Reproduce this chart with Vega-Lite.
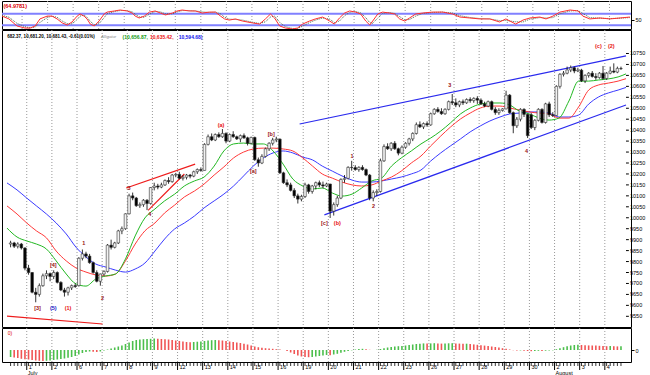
{
"$schema":"https://vega.github.io/schema/vega-lite/v6.json",
"padding":0,
"background":"white",
"spacing":1,
"bounds":"flush",
"config":{"view":{"stroke":"#000","strokeWidth":1},"font":"Liberation Sans","axis":{"labelFont":"Liberation Sans","labelColor":"#000","tickColor":"#000","labelOverlap":false,"labelFontSize":5.5}},
"datasets":{
"days":[{"t":-0.5,"lab":"1"},{"t":6.5,"lab":"2"},{"t":13.5,"lab":"6"},{"t":20.5,"lab":"7"},{"t":27.5,"lab":"8"},{"t":34.5,"lab":"9"},{"t":41.5,"lab":"12"},{"t":48.5,"lab":"13"},{"t":55.5,"lab":"14"},{"t":62.5,"lab":"15"},{"t":69.5,"lab":"16"},{"t":76.5,"lab":"19"},{"t":83.5,"lab":"20"},{"t":90.5,"lab":"21"},{"t":97.5,"lab":"22"},{"t":104.5,"lab":"23"},{"t":111.5,"lab":"26"},{"t":118.5,"lab":"27"},{"t":125.5,"lab":"28"},{"t":132.5,"lab":"29"},{"t":139.5,"lab":"30"},{"t":146.5,"lab":"2"},{"t":153.5,"lab":"3"},{"t":160.5,"lab":"4"}],
"months":[{"t":-0.5,"mon":"July"},{"t":146.5,"mon":"August"}],
"yticks":[{"v":9550},{"v":9600},{"v":9650},{"v":9700},{"v":9750},{"v":9800},{"v":9850},{"v":9900},{"v":9950},{"v":10000},{"v":10050},{"v":10100},{"v":10150},{"v":10200},{"v":10250},{"v":10300},{"v":10350},{"v":10400},{"v":10450},{"v":10500},{"v":10550},{"v":10600},{"v":10650},{"v":10700},{"v":10750}],
"bars":[
{"t":-5,"o":9880,"h":9895,"l":9865,"c":9885,"a":-70,"d":"u"},
{"t":-4,"o":9885,"h":9890,"l":9862,"c":9870,"a":-75,"d":"d"},
{"t":-3,"o":9870,"h":9888,"l":9860,"c":9880,"a":-80,"d":"d"},
{"t":-2,"o":9880,"h":9885,"l":9855,"c":9862,"a":-88,"d":"d"},
{"t":-1,"o":9862,"h":9865,"l":9760,"c":9770,"a":-92,"d":"d"},
{"t":0,"o":9770,"h":9785,"l":9740,"c":9750,"a":-95,"d":"d"},
{"t":1,"o":9750,"h":9752,"l":9655,"c":9660,"a":-100,"d":"d"},
{"t":2,"o":9660,"h":9680,"l":9614,"c":9650,"a":-105,"d":"d"},
{"t":3,"o":9650,"h":9700,"l":9640,"c":9690,"a":-108,"d":"d"},
{"t":4,"o":9690,"h":9745,"l":9685,"c":9735,"a":-110,"d":"d"},
{"t":5,"o":9735,"h":9760,"l":9720,"c":9745,"a":-108,"d":"u"},
{"t":6,"o":9745,"h":9750,"l":9710,"c":9732,"a":-105,"d":"u"},
{"t":7,"o":9732,"h":9760,"l":9720,"c":9750,"a":-100,"d":"u"},
{"t":8,"o":9750,"h":9755,"l":9700,"c":9705,"a":-95,"d":"u"},
{"t":9,"o":9705,"h":9710,"l":9665,"c":9670,"a":-90,"d":"u"},
{"t":10,"o":9670,"h":9680,"l":9640,"c":9660,"a":-85,"d":"u"},
{"t":11,"o":9660,"h":9685,"l":9645,"c":9680,"a":-78,"d":"u"},
{"t":12,"o":9680,"h":9695,"l":9670,"c":9690,"a":-70,"d":"u"},
{"t":13,"o":9690,"h":9700,"l":9680,"c":9686,"a":-60,"d":"u"},
{"t":14,"o":9690,"h":9820,"l":9686,"c":9815,"a":-45,"d":"u"},
{"t":15,"o":9815,"h":9855,"l":9805,"c":9835,"a":-30,"d":"u"},
{"t":16,"o":9835,"h":9845,"l":9815,"c":9825,"a":-20,"d":"u"},
{"t":17,"o":9825,"h":9835,"l":9790,"c":9795,"a":-15,"d":"u"},
{"t":18,"o":9795,"h":9800,"l":9745,"c":9750,"a":-18,"d":"d"},
{"t":19,"o":9750,"h":9760,"l":9705,"c":9710,"a":-20,"d":"d"},
{"t":20,"o":9710,"h":9745,"l":9690,"c":9743,"a":-15,"d":"u"},
{"t":21,"o":9743,"h":9760,"l":9735,"c":9755,"a":-5,"d":"u"},
{"t":22,"o":9755,"h":9880,"l":9750,"c":9875,"a":5,"d":"u"},
{"t":23,"o":9875,"h":9900,"l":9855,"c":9865,"a":15,"d":"u"},
{"t":24,"o":9865,"h":9890,"l":9860,"c":9885,"a":25,"d":"u"},
{"t":25,"o":9885,"h":9945,"l":9880,"c":9940,"a":35,"d":"u"},
{"t":26,"o":9940,"h":9960,"l":9925,"c":9950,"a":45,"d":"u"},
{"t":27,"o":9950,"h":10020,"l":9945,"c":10018,"a":60,"d":"u"},
{"t":28,"o":10018,"h":10110,"l":10015,"c":10100,"a":75,"d":"u"},
{"t":29,"o":10100,"h":10115,"l":10080,"c":10090,"a":90,"d":"u"},
{"t":30,"o":10090,"h":10095,"l":10050,"c":10055,"a":100,"d":"u"},
{"t":31,"o":10055,"h":10070,"l":10045,"c":10060,"a":105,"d":"u"},
{"t":32,"o":10060,"h":10085,"l":10050,"c":10080,"a":108,"d":"u"},
{"t":33,"o":10080,"h":10085,"l":10035,"c":10065,"a":110,"d":"u"},
{"t":34,"o":10065,"h":10140,"l":10060,"c":10138,"a":112,"d":"u"},
{"t":35,"o":10138,"h":10160,"l":10125,"c":10145,"a":115,"d":"u"},
{"t":36,"o":10145,"h":10155,"l":10130,"c":10140,"a":113,"d":"d"},
{"t":37,"o":10140,"h":10160,"l":10135,"c":10150,"a":110,"d":"d"},
{"t":38,"o":10150,"h":10175,"l":10145,"c":10170,"a":108,"d":"d"},
{"t":39,"o":10170,"h":10185,"l":10155,"c":10165,"a":105,"d":"d"},
{"t":40,"o":10165,"h":10200,"l":10160,"c":10195,"a":100,"d":"d"},
{"t":41,"o":10195,"h":10205,"l":10185,"c":10198,"a":95,"d":"d"},
{"t":42,"o":10198,"h":10210,"l":10175,"c":10180,"a":90,"d":"d"},
{"t":43,"o":10180,"h":10195,"l":10170,"c":10185,"a":85,"d":"d"},
{"t":44,"o":10185,"h":10200,"l":10175,"c":10195,"a":80,"d":"d"},
{"t":45,"o":10195,"h":10200,"l":10180,"c":10190,"a":78,"d":"d"},
{"t":46,"o":10190,"h":10215,"l":10185,"c":10210,"a":80,"d":"u"},
{"t":47,"o":10210,"h":10225,"l":10200,"c":10220,"a":83,"d":"u"},
{"t":48,"o":10220,"h":10230,"l":10210,"c":10216,"a":86,"d":"u"},
{"t":49,"o":10216,"h":10340,"l":10216,"c":10335,"a":90,"d":"u"},
{"t":50,"o":10335,"h":10380,"l":10330,"c":10370,"a":95,"d":"u"},
{"t":51,"o":10370,"h":10385,"l":10350,"c":10355,"a":98,"d":"u"},
{"t":52,"o":10355,"h":10385,"l":10350,"c":10380,"a":100,"d":"u"},
{"t":53,"o":10380,"h":10390,"l":10365,"c":10370,"a":98,"d":"d"},
{"t":54,"o":10370,"h":10405,"l":10365,"c":10385,"a":95,"d":"d"},
{"t":55,"o":10385,"h":10390,"l":10340,"c":10350,"a":90,"d":"d"},
{"t":56,"o":10350,"h":10385,"l":10345,"c":10380,"a":85,"d":"d"},
{"t":57,"o":10380,"h":10395,"l":10365,"c":10370,"a":80,"d":"d"},
{"t":58,"o":10370,"h":10375,"l":10355,"c":10360,"a":75,"d":"d"},
{"t":59,"o":10360,"h":10380,"l":10345,"c":10375,"a":70,"d":"d"},
{"t":60,"o":10375,"h":10385,"l":10360,"c":10365,"a":62,"d":"d"},
{"t":61,"o":10365,"h":10370,"l":10330,"c":10340,"a":55,"d":"d"},
{"t":62,"o":10340,"h":10370,"l":10335,"c":10367,"a":45,"d":"d"},
{"t":63,"o":10367,"h":10370,"l":10260,"c":10265,"a":35,"d":"d"},
{"t":64,"o":10265,"h":10275,"l":10233,"c":10250,"a":28,"d":"d"},
{"t":65,"o":10250,"h":10290,"l":10245,"c":10280,"a":22,"d":"d"},
{"t":66,"o":10280,"h":10320,"l":10275,"c":10315,"a":18,"d":"d"},
{"t":67,"o":10315,"h":10345,"l":10305,"c":10340,"a":15,"d":"d"},
{"t":68,"o":10340,"h":10365,"l":10330,"c":10355,"a":12,"d":"d"},
{"t":69,"o":10355,"h":10370,"l":10345,"c":10359,"a":8,"d":"d"},
{"t":70,"o":10359,"h":10362,"l":10200,"c":10205,"a":5,"d":"d"},
{"t":71,"o":10205,"h":10210,"l":10155,"c":10160,"a":0,"d":"d"},
{"t":72,"o":10160,"h":10175,"l":10140,"c":10150,"a":-10,"d":"d"},
{"t":73,"o":10150,"h":10160,"l":10120,"c":10125,"a":-25,"d":"d"},
{"t":74,"o":10125,"h":10135,"l":10090,"c":10100,"a":-40,"d":"d"},
{"t":75,"o":10100,"h":10110,"l":10065,"c":10085,"a":-55,"d":"d"},
{"t":76,"o":10085,"h":10105,"l":10075,"c":10097,"a":-65,"d":"d"},
{"t":77,"o":10097,"h":10160,"l":10090,"c":10150,"a":-70,"d":"d"},
{"t":78,"o":10150,"h":10155,"l":10110,"c":10120,"a":-72,"d":"d"},
{"t":79,"o":10120,"h":10150,"l":10110,"c":10145,"a":-70,"d":"u"},
{"t":80,"o":10145,"h":10165,"l":10130,"c":10160,"a":-65,"d":"u"},
{"t":81,"o":10160,"h":10170,"l":10140,"c":10150,"a":-60,"d":"u"},
{"t":82,"o":10150,"h":10165,"l":10135,"c":10145,"a":-55,"d":"u"},
{"t":83,"o":10145,"h":10160,"l":10140,"c":10154,"a":-50,"d":"u"},
{"t":84,"o":10154,"h":10155,"l":9999,"c":10030,"a":-52,"d":"d"},
{"t":85,"o":10030,"h":10070,"l":10010,"c":10060,"a":-45,"d":"u"},
{"t":86,"o":10060,"h":10100,"l":10050,"c":10090,"a":-38,"d":"u"},
{"t":87,"o":10090,"h":10180,"l":10085,"c":10175,"a":-28,"d":"u"},
{"t":88,"o":10175,"h":10195,"l":10160,"c":10180,"a":-18,"d":"u"},
{"t":89,"o":10180,"h":10235,"l":10175,"c":10230,"a":-10,"d":"u"},
{"t":90,"o":10230,"h":10260,"l":10215,"c":10229,"a":-3,"d":"u"},
{"t":91,"o":10229,"h":10240,"l":10215,"c":10220,"a":5,"d":"u"},
{"t":92,"o":10220,"h":10235,"l":10210,"c":10230,"a":10,"d":"u"},
{"t":93,"o":10230,"h":10240,"l":10215,"c":10220,"a":12,"d":"u"},
{"t":94,"o":10220,"h":10225,"l":10190,"c":10195,"a":8,"d":"d"},
{"t":95,"o":10195,"h":10200,"l":10080,"c":10090,"a":2,"d":"d"},
{"t":96,"o":10090,"h":10125,"l":10075,"c":10115,"a":0,"d":"d"},
{"t":97,"o":10115,"h":10130,"l":10100,"c":10120,"a":3,"d":"u"},
{"t":98,"o":10120,"h":10270,"l":10115,"c":10260,"a":10,"d":"u"},
{"t":99,"o":10260,"h":10335,"l":10255,"c":10325,"a":18,"d":"u"},
{"t":100,"o":10325,"h":10340,"l":10310,"c":10315,"a":25,"d":"u"},
{"t":101,"o":10315,"h":10345,"l":10305,"c":10340,"a":30,"d":"u"},
{"t":102,"o":10340,"h":10350,"l":10310,"c":10315,"a":35,"d":"u"},
{"t":103,"o":10315,"h":10320,"l":10285,"c":10295,"a":38,"d":"u"},
{"t":104,"o":10295,"h":10330,"l":10290,"c":10322,"a":40,"d":"u"},
{"t":105,"o":10322,"h":10345,"l":10315,"c":10340,"a":45,"d":"u"},
{"t":106,"o":10340,"h":10365,"l":10330,"c":10360,"a":50,"d":"u"},
{"t":107,"o":10360,"h":10390,"l":10350,"c":10385,"a":55,"d":"u"},
{"t":108,"o":10385,"h":10435,"l":10380,"c":10425,"a":60,"d":"u"},
{"t":109,"o":10425,"h":10440,"l":10410,"c":10415,"a":63,"d":"u"},
{"t":110,"o":10415,"h":10435,"l":10405,"c":10430,"a":66,"d":"u"},
{"t":111,"o":10430,"h":10440,"l":10415,"c":10424,"a":64,"d":"d"},
{"t":112,"o":10424,"h":10480,"l":10420,"c":10475,"a":66,"d":"u"},
{"t":113,"o":10475,"h":10500,"l":10470,"c":10495,"a":68,"d":"u"},
{"t":114,"o":10495,"h":10505,"l":10480,"c":10485,"a":66,"d":"d"},
{"t":115,"o":10485,"h":10500,"l":10470,"c":10475,"a":64,"d":"d"},
{"t":116,"o":10475,"h":10500,"l":10470,"c":10495,"a":65,"d":"u"},
{"t":117,"o":10495,"h":10535,"l":10490,"c":10530,"a":67,"d":"u"},
{"t":118,"o":10530,"h":10565,"l":10515,"c":10525,"a":68,"d":"u"},
{"t":119,"o":10525,"h":10545,"l":10505,"c":10515,"a":66,"d":"d"},
{"t":120,"o":10515,"h":10535,"l":10505,"c":10530,"a":64,"d":"d"},
{"t":121,"o":10530,"h":10540,"l":10515,"c":10525,"a":62,"d":"d"},
{"t":122,"o":10525,"h":10545,"l":10520,"c":10540,"a":63,"d":"u"},
{"t":123,"o":10540,"h":10550,"l":10525,"c":10535,"a":60,"d":"d"},
{"t":124,"o":10535,"h":10550,"l":10525,"c":10545,"a":56,"d":"d"},
{"t":125,"o":10545,"h":10555,"l":10520,"c":10537,"a":52,"d":"d"},
{"t":126,"o":10537,"h":10545,"l":10515,"c":10520,"a":48,"d":"d"},
{"t":127,"o":10520,"h":10530,"l":10505,"c":10510,"a":44,"d":"d"},
{"t":128,"o":10510,"h":10535,"l":10505,"c":10530,"a":40,"d":"d"},
{"t":129,"o":10530,"h":10535,"l":10490,"c":10495,"a":35,"d":"d"},
{"t":130,"o":10495,"h":10505,"l":10470,"c":10480,"a":30,"d":"d"},
{"t":131,"o":10480,"h":10500,"l":10470,"c":10490,"a":25,"d":"d"},
{"t":132,"o":10490,"h":10500,"l":10485,"c":10497,"a":18,"d":"d"},
{"t":133,"o":10497,"h":10580,"l":10495,"c":10560,"a":12,"d":"d"},
{"t":134,"o":10560,"h":10565,"l":10475,"c":10480,"a":5,"d":"d"},
{"t":135,"o":10480,"h":10485,"l":10386,"c":10420,"a":-2,"d":"d"},
{"t":136,"o":10420,"h":10460,"l":10410,"c":10450,"a":-5,"d":"d"},
{"t":137,"o":10450,"h":10500,"l":10440,"c":10495,"a":-4,"d":"u"},
{"t":138,"o":10495,"h":10500,"l":10460,"c":10472,"a":-8,"d":"d"},
{"t":139,"o":10472,"h":10475,"l":10364,"c":10375,"a":-10,"d":"d"},
{"t":140,"o":10470,"h":10478,"l":10405,"c":10412,"a":-12,"d":"d"},
{"t":141,"o":10412,"h":10450,"l":10400,"c":10445,"a":-10,"d":"u"},
{"t":142,"o":10445,"h":10500,"l":10440,"c":10495,"a":-8,"d":"u"},
{"t":143,"o":10495,"h":10500,"l":10430,"c":10435,"a":-10,"d":"d"},
{"t":144,"o":10435,"h":10525,"l":10430,"c":10520,"a":-7,"d":"u"},
{"t":145,"o":10520,"h":10530,"l":10460,"c":10470,"a":-5,"d":"u"},
{"t":146,"o":10470,"h":10482,"l":10460,"c":10467,"a":-3,"d":"u"},
{"t":147,"o":10467,"h":10605,"l":10465,"c":10600,"a":8,"d":"u"},
{"t":148,"o":10600,"h":10660,"l":10590,"c":10655,"a":18,"d":"u"},
{"t":149,"o":10655,"h":10670,"l":10645,"c":10660,"a":28,"d":"u"},
{"t":150,"o":10660,"h":10690,"l":10655,"c":10675,"a":38,"d":"u"},
{"t":151,"o":10675,"h":10695,"l":10665,"c":10685,"a":45,"d":"u"},
{"t":152,"o":10685,"h":10690,"l":10660,"c":10670,"a":50,"d":"u"},
{"t":153,"o":10670,"h":10685,"l":10665,"c":10674,"a":52,"d":"u"},
{"t":154,"o":10674,"h":10680,"l":10620,"c":10625,"a":50,"d":"d"},
{"t":155,"o":10625,"h":10655,"l":10615,"c":10650,"a":48,"d":"d"},
{"t":156,"o":10650,"h":10665,"l":10640,"c":10660,"a":46,"d":"d"},
{"t":157,"o":10660,"h":10670,"l":10640,"c":10645,"a":45,"d":"d"},
{"t":158,"o":10645,"h":10660,"l":10630,"c":10640,"a":44,"d":"d"},
{"t":159,"o":10640,"h":10665,"l":10635,"c":10660,"a":42,"d":"d"},
{"t":160,"o":10660,"h":10693,"l":10630,"c":10636,"a":40,"d":"d"},
{"t":161,"o":10636,"h":10665,"l":10630,"c":10660,"a":38,"d":"d"},
{"t":162,"o":10660,"h":10690,"l":10655,"c":10670,"a":40,"d":"u"},
{"t":163,"o":10670,"h":10705,"l":10660,"c":10665,"a":38,"d":"d"},
{"t":164,"o":10665,"h":10690,"l":10660,"c":10682,"a":36,"d":"d"},
{"t":165,"o":10682,"h":10690,"l":10675,"c":10681,"a":37,"d":"u"}
],
"ma":[
{"t":-6.0,"g":9953,"r":10054,"b":10159},{"t":-3.2,"g":9912,"r":10017,"b":10127},{"t":-0.5,"g":9894,"r":9976,"b":10090},{"t":2.2,"g":9880,"r":9940,"b":10054},{"t":5.0,"g":9857,"r":9908,"b":10017},{"t":7.7,"g":9803,"r":9848,"b":9976},{"t":10.5,"g":9743,"r":9803,"b":9926},{"t":13.2,"g":9698,"r":9771,"b":9866},{"t":16.0,"g":9688,"r":9752,"b":9821},{"t":18.7,"g":9720,"r":9739,"b":9789},{"t":21.5,"g":9734,"r":9734,"b":9775},{"t":24.2,"g":9743,"r":9743,"b":9761},{"t":27.0,"g":9812,"r":9803,"b":9752},{"t":29.7,"g":9917,"r":9880,"b":9766},{"t":32.4,"g":9999,"r":9940,"b":9793},{"t":35.2,"g":10040,"r":9976,"b":9848},{"t":37.9,"g":10077,"r":10022,"b":9903},{"t":40.7,"g":10108,"r":10058,"b":9949},{"t":43.4,"g":10145,"r":10095,"b":9976},{"t":46.2,"g":10168,"r":10122,"b":10008},{"t":48.9,"g":10186,"r":10154,"b":10045},{"t":51.7,"g":10236,"r":10195,"b":10077},{"t":54.4,"g":10305,"r":10232,"b":10108},{"t":57.1,"g":10337,"r":10273,"b":10145},{"t":59.9,"g":10341,"r":10300,"b":10191},{"t":62.6,"g":10337,"r":10314,"b":10236},{"t":65.4,"g":10337,"r":10318,"b":10273},{"t":68.1,"g":10305,"r":10318,"b":10296},{"t":70.9,"g":10245,"r":10314,"b":10305},{"t":73.6,"g":10177,"r":10305,"b":10296},{"t":76.4,"g":10145,"r":10273,"b":10277},{"t":79.1,"g":10131,"r":10236,"b":10264},{"t":81.8,"g":10136,"r":10200,"b":10236},{"t":84.6,"g":10113,"r":10181,"b":10213},{"t":87.3,"g":10099,"r":10163,"b":10191},{"t":90.1,"g":10108,"r":10150,"b":10172},{"t":92.8,"g":10136,"r":10145,"b":10163},{"t":95.6,"g":10168,"r":10150,"b":10163},{"t":98.3,"g":10181,"r":10168,"b":10168},{"t":101.1,"g":10236,"r":10186,"b":10177},{"t":103.8,"g":10273,"r":10213,"b":10186},{"t":106.6,"g":10305,"r":10250,"b":10200},{"t":109.3,"g":10337,"r":10282,"b":10218},{"t":112.0,"g":10364,"r":10328,"b":10259},{"t":114.8,"g":10396,"r":10373,"b":10296},{"t":117.5,"g":10433,"r":10414,"b":10328},{"t":120.3,"g":10474,"r":10451,"b":10360},{"t":123.0,"g":10501,"r":10478,"b":10392},{"t":125.8,"g":10519,"r":10501,"b":10419},{"t":128.5,"g":10524,"r":10510,"b":10442},{"t":131.3,"g":10524,"r":10510,"b":10460},{"t":134.0,"g":10515,"r":10501,"b":10474},{"t":136.7,"g":10487,"r":10492,"b":10478},{"t":139.5,"g":10474,"r":10483,"b":10483},{"t":142.2,"g":10455,"r":10478,"b":10483},{"t":145.0,"g":10446,"r":10474,"b":10478},{"t":147.7,"g":10455,"r":10455,"b":10460},{"t":150.5,"g":10533,"r":10455,"b":10460},{"t":153.2,"g":10624,"r":10506,"b":10469},{"t":156.0,"g":10624,"r":10583,"b":10519},{"t":158.7,"g":10629,"r":10606,"b":10551},{"t":161.5,"g":10634,"r":10615,"b":10570},{"t":164.2,"g":10643,"r":10624,"b":10583},{"t":166.4,"g":10657,"r":10635,"b":10595}
],
"st":[
{"t":-6.0,"k":68,"d":72},{"t":-4.1,"k":53,"d":62},{"t":-1.9,"k":16,"d":30},{"t":0.3,"k":5,"d":12},{"t":1.7,"k":5,"d":6},{"t":3.1,"k":16,"d":10},{"t":4.4,"k":53,"d":35},{"t":6.4,"k":68,"d":60},{"t":7.7,"k":68,"d":68},{"t":9.1,"k":53,"d":62},{"t":10.5,"k":32,"d":42},{"t":11.9,"k":21,"d":28},{"t":13.2,"k":37,"d":27},{"t":14.6,"k":68,"d":50},{"t":15.4,"k":79,"d":68},{"t":16.5,"k":68,"d":73},{"t":17.3,"k":53,"d":62},{"t":18.2,"k":26,"d":40},{"t":19.3,"k":16,"d":22},{"t":20.6,"k":42,"d":28},{"t":22.0,"k":79,"d":60},{"t":22.8,"k":89,"d":80},{"t":24.8,"k":95,"d":92},{"t":26.4,"k":100,"d":97},{"t":28.3,"k":95,"d":97},{"t":29.7,"k":84,"d":90},{"t":30.5,"k":68,"d":78},{"t":31.6,"k":58,"d":64},{"t":33.0,"k":68,"d":62},{"t":34.4,"k":89,"d":78},{"t":36.0,"k":95,"d":92},{"t":37.4,"k":84,"d":90},{"t":38.8,"k":74,"d":80},{"t":40.7,"k":84,"d":80},{"t":42.0,"k":95,"d":90},{"t":43.4,"k":100,"d":97},{"t":45.3,"k":95,"d":97},{"t":47.0,"k":95,"d":95},{"t":48.9,"k":84,"d":90},{"t":50.8,"k":89,"d":87},{"t":52.5,"k":89,"d":89},{"t":53.9,"k":68,"d":80},{"t":55.0,"k":53,"d":62},{"t":56.3,"k":47,"d":52},{"t":58.0,"k":53,"d":50},{"t":59.9,"k":42,"d":47},{"t":62.6,"k":32,"d":36},{"t":64.6,"k":26,"d":29},{"t":66.2,"k":53,"d":38},{"t":67.6,"k":79,"d":63},{"t":68.7,"k":58,"d":68},{"t":70.1,"k":16,"d":35},{"t":71.7,"k":5,"d":12},{"t":73.6,"k":0,"d":3},{"t":75.0,"k":5,"d":3},{"t":76.4,"k":26,"d":15},{"t":78.3,"k":42,"d":34},{"t":79.9,"k":53,"d":47},{"t":81.9,"k":63,"d":58},{"t":83.8,"k":42,"d":52},{"t":85.1,"k":26,"d":34},{"t":86.5,"k":58,"d":42},{"t":87.9,"k":84,"d":70},{"t":89.3,"k":95,"d":88},{"t":90.9,"k":89,"d":92},{"t":92.3,"k":79,"d":85},{"t":93.7,"k":42,"d":60},{"t":94.8,"k":21,"d":33},{"t":95.6,"k":42,"d":30},{"t":97.0,"k":79,"d":58},{"t":98.3,"k":89,"d":82},{"t":100.2,"k":84,"d":87},{"t":101.6,"k":79,"d":82},{"t":103.0,"k":53,"d":65},{"t":104.4,"k":42,"d":48},{"t":105.7,"k":58,"d":50},{"t":107.4,"k":79,"d":68},{"t":109.3,"k":84,"d":82},{"t":112.0,"k":89,"d":87},{"t":114.8,"k":89,"d":89},{"t":117.5,"k":79,"d":84},{"t":119.5,"k":63,"d":70},{"t":122.2,"k":58,"d":61},{"t":125.0,"k":53,"d":55},{"t":127.7,"k":53,"d":53},{"t":130.4,"k":37,"d":44},{"t":132.1,"k":53,"d":45},{"t":134.8,"k":26,"d":38},{"t":136.8,"k":47,"d":37},{"t":138.7,"k":58,"d":52},{"t":141.4,"k":63,"d":60},{"t":143.1,"k":53,"d":58},{"t":145.0,"k":68,"d":60},{"t":146.9,"k":89,"d":80},{"t":149.7,"k":100,"d":95},{"t":151.9,"k":95,"d":97},{"t":153.2,"k":68,"d":82},{"t":155.1,"k":53,"d":60},{"t":157.9,"k":58,"d":57},{"t":160.6,"k":53,"d":55},{"t":163.4,"k":58,"d":57},{"t":166.1,"k":63,"d":60}
],
"lines":[
{"id":"r1","t":-6,"v":9551},{"id":"r1","t":20.6,"v":9515},
{"id":"r2","t":27.2,"v":10136},{"id":"r2","t":46.4,"v":10245},
{"id":"r3","t":33.3,"v":10034},{"id":"r3","t":43.4,"v":10200},
{"id":"bu","t":75.5,"v":10428},{"id":"bu","t":166.4,"v":10739},
{"id":"bl","t":82.4,"v":10013},{"id":"bl","t":166.4,"v":10515}
],
"waves":[
{"t":2.5,"v":9588,"s":"[3]","k":"dr"},{"t":6.9,"v":9588,"s":"(5)","k":"b"},{"t":11.0,"v":9588,"s":"(1)","k":"r"},{"t":6.9,"v":9784,"s":"[4]","k":"dr"},{"t":15.4,"v":9885,"s":"1","k":"dr"},{"t":20.6,"v":9634,"s":"2","k":"dr"},{"t":28.0,"v":10136,"s":"3","k":"dr"},{"t":33.8,"v":10017,"s":"4","k":"dr"},{"t":53.6,"v":10424,"s":"(a)","k":"r"},{"t":62.6,"v":10213,"s":"[a]","k":"dr"},{"t":67.6,"v":10382,"s":"[b]","k":"dr"},{"t":82.4,"v":9976,"s":"[c]","k":"dr"},{"t":86.0,"v":9976,"s":"(b)","k":"r"},{"t":90.1,"v":10282,"s":"1","k":"dr"},{"t":96.1,"v":10054,"s":"2","k":"dr"},{"t":117.3,"v":10606,"s":"3","k":"dr"},{"t":138.7,"v":10305,"s":"4","k":"dr"},{"t":158.7,"v":10784,"s":"(c)","k":"r"},{"t":162.3,"v":10784,"s":"(2)","k":"r"}
]
},
"vconcat":[
{
"width":629,"height":28,
"layer":[
{"data":{"name":"days"},"mark":{"type":"rule","color":"#999","strokeDash":[1,2],"strokeWidth":1},
 "encoding":{"x":{"field":"t","type":"quantitative","scale":{"domain":[-6,166.4],"nice":false,"zero":false},"axis":null}}},
{"data":{"values":[{}]},"mark":{"type":"rule","color":"#8080ff","strokeWidth":2},
 "encoding":{"y":{"datum":80,"type":"quantitative","scale":{"domain":[0,147.4],"nice":false,"zero":false},
  "axis":{"orient":"right","values":[50],"title":null,"grid":false,"domain":false,"tickSize":3,"labelPadding":1,"labelFontSize":5.5,"format":"d","labelOverlap":false}}}},
{"data":{"values":[{}]},"mark":{"type":"rule","color":"#8080ff","strokeWidth":2},
 "encoding":{"y":{"datum":20,"type":"quantitative"}}},
{"data":{"name":"st"},"mark":{"type":"line","color":"#4d6b4d","strokeDash":[1,1],"strokeWidth":1,"clip":true},
 "encoding":{"x":{"field":"t","type":"quantitative"},"y":{"field":"d","type":"quantitative"}}},
{"data":{"name":"st"},"mark":{"type":"line","color":"#ff3030","strokeWidth":1,"clip":true},
 "encoding":{"x":{"field":"t","type":"quantitative"},"y":{"field":"k","type":"quantitative"}}},
{"data":{"values":[{}]},"mark":{"type":"text","align":"left","baseline":"middle","color":"#dd0000","fontWeight":"bold","fontSize":5.5},
 "encoding":{"x":{"datum":-5.6,"type":"quantitative"},"y":{"datum":121,"type":"quantitative"},"text":{"value":"(64.9781)"}}}
]
},
{
"width":629,"height":297,
"layer":[
{"data":{"name":"days"},"mark":{"type":"rule","color":"#999","strokeDash":[1,2],"strokeWidth":1},
 "encoding":{"x":{"field":"t","type":"quantitative","scale":{"domain":[-6,166.4],"nice":false,"zero":false},"axis":null}}},
{"data":{"name":"lines"},"mark":{"type":"line","strokeWidth":1.2,"clip":true},
 "encoding":{"x":{"field":"t","type":"quantitative"},
  "y":{"field":"v","type":"quantitative","scale":{"domain":[9501.2,10857.3],"nice":false,"zero":false},"axis":null},
  "detail":{"field":"id"},
  "color":{"condition":{"test":"datum.id == 'bu' || datum.id == 'bl'","value":"#2a2aee"},"value":"#ee1c1c"}}},
{"data":{"name":"ma"},"mark":{"type":"line","color":"#3a3aff","strokeWidth":1,"interpolate":"monotone","clip":true},
 "encoding":{"x":{"field":"t","type":"quantitative"},"y":{"field":"b","type":"quantitative"}}},
{"data":{"name":"ma"},"mark":{"type":"line","color":"#ff3838","strokeWidth":1,"interpolate":"monotone","clip":true},
 "encoding":{"x":{"field":"t","type":"quantitative"},"y":{"field":"r","type":"quantitative"}}},
{"data":{"name":"ma"},"mark":{"type":"line","color":"#22b822","strokeWidth":1,"interpolate":"monotone","clip":true},
 "encoding":{"x":{"field":"t","type":"quantitative"},"y":{"field":"g","type":"quantitative"}}},
{"data":{"name":"bars"},"mark":{"type":"rule","color":"#000","strokeWidth":0.8},
 "encoding":{"x":{"field":"t","type":"quantitative"},"y":{"field":"l","type":"quantitative"},"y2":{"field":"h"}}},
{"data":{"name":"bars"},"mark":{"type":"bar","width":2.6,"stroke":"#333","strokeWidth":0.6},
 "encoding":{"x":{"field":"t","type":"quantitative"},"y":{"field":"o","type":"quantitative"},"y2":{"field":"c"},
  "fill":{"condition":{"test":"datum.c >= datum.o","value":"#f2f2f2"},"value":"#000"}}},
{"data":{"name":"waves"},"mark":{"type":"text","fontSize":5.5,"fontWeight":"bold","align":"center","baseline":"middle"},
 "encoding":{"x":{"field":"t","type":"quantitative"},"y":{"field":"v","type":"quantitative"},"text":{"field":"s"},
  "color":{"condition":[{"test":"datum.k == 'dr'","value":"#9a1414"},{"test":"datum.k == 'b'","value":"#2020c8"}],"value":"#e81010"}}},
{"data":{"name":"yticks"},"mark":{"type":"rule","color":"#000","strokeWidth":1},
 "encoding":{"x":{"datum":166.4,"type":"quantitative"},"x2":{"datum":167.2},"y":{"field":"v","type":"quantitative"}}},
{"data":{"name":"yticks"},"mark":{"type":"text","align":"left","baseline":"middle","dx":4,"fontSize":5.5,"color":"#000"},
 "encoding":{"x":{"datum":166.4,"type":"quantitative"},"y":{"field":"v","type":"quantitative"},"text":{"field":"v","type":"quantitative","format":"d"}}},
{"data":{"values":[{}]},"mark":{"type":"text","align":"left","baseline":"middle","color":"#000","fontWeight":"bold","fontSize":4.5},
 "encoding":{"x":{"datum":-5.9,"type":"quantitative"},"y":{"datum":10825,"type":"quantitative"},"text":{"value":"682.37, 10,681.20, 10,681.43, -0.61(0.01%)"}}},
{"data":{"values":[{}]},"mark":{"type":"text","align":"left","baseline":"middle","color":"#888","fontStyle":"italic","fontSize":4.2},
 "encoding":{"x":{"datum":20.2,"type":"quantitative"},"y":{"datum":10825,"type":"quantitative"},"text":{"value":"Alligator"}}},
{"data":{"values":[{}]},"mark":{"type":"text","align":"left","baseline":"middle","color":"#119911","fontWeight":"bold","fontSize":5},
 "encoding":{"x":{"datum":26.2,"type":"quantitative"},"y":{"datum":10825,"type":"quantitative"},"text":{"value":"(10,656.87,"}}},
{"data":{"values":[{}]},"mark":{"type":"text","align":"left","baseline":"middle","color":"#ee1111","fontWeight":"bold","fontSize":5},
 "encoding":{"x":{"datum":33.8,"type":"quantitative"},"y":{"datum":10825,"type":"quantitative"},"text":{"value":"10,635.42,"}}},
{"data":{"values":[{}]},"mark":{"type":"text","align":"left","baseline":"middle","color":"#1111ee","fontWeight":"bold","fontSize":5},
 "encoding":{"x":{"datum":41.8,"type":"quantitative"},"y":{"datum":10825,"type":"quantitative"},"text":{"value":"10,594.68)"}}}
]
},
{
"width":629,"height":34,
"layer":[
{"data":{"name":"days"},"mark":{"type":"rule","color":"#999","strokeDash":[1,2],"strokeWidth":1},
 "encoding":{"x":{"field":"t","type":"quantitative","scale":{"domain":[-6,166.4],"nice":false,"zero":false},"axis":null}}},
{"data":{"name":"bars"},"mark":{"type":"bar","width":1.6},
 "encoding":{"x":{"field":"t","type":"quantitative"},
  "y":{"field":"a","type":"quantitative","scale":{"domain":[-120,220],"nice":false,"zero":false},
   "axis":{"orient":"right","values":[0],"format":"d","title":null,"grid":false,"domain":false,"tickSize":3,"labelPadding":1,"labelFontSize":5.5}},
  "y2":{"datum":0},
  "color":{"condition":{"test":"datum.d == 'u'","value":"#4cbf4c"},"value":"#f05555"}}},
{"data":{"name":"bars"},"mark":{"type":"rule","color":"#000","strokeWidth":0.8},
 "encoding":{"x":{"field":"t","type":"quantitative"},"y":{"datum":-120,"type":"quantitative"},"y2":{"datum":-160}}},
{"data":{"name":"days"},"mark":{"type":"rule","color":"#000","strokeWidth":1},
 "encoding":{"x":{"field":"t","type":"quantitative"},"y":{"datum":-120,"type":"quantitative"},"y2":{"datum":-200}}},
{"data":{"name":"days"},"mark":{"type":"text","align":"left","baseline":"middle","dx":2,"fontSize":5.5,"color":"#000"},
 "encoding":{"x":{"field":"t","type":"quantitative"},"y":{"datum":-170,"type":"quantitative"},"text":{"field":"lab"}}},
{"data":{"name":"months"},"mark":{"type":"text","align":"left","baseline":"middle","dx":1,"fontSize":5.5,"color":"#000"},
 "encoding":{"x":{"field":"t","type":"quantitative"},"y":{"datum":-232,"type":"quantitative"},"text":{"field":"mon"}}},
{"data":{"values":[{}]},"mark":{"type":"text","align":"left","baseline":"middle","color":"#dd0000","fontSize":5},
 "encoding":{"x":{"datum":-5.8,"type":"quantitative"},"y":{"datum":170,"type":"quantitative"},"text":{"value":"0)"}}}
]
}
]
}
